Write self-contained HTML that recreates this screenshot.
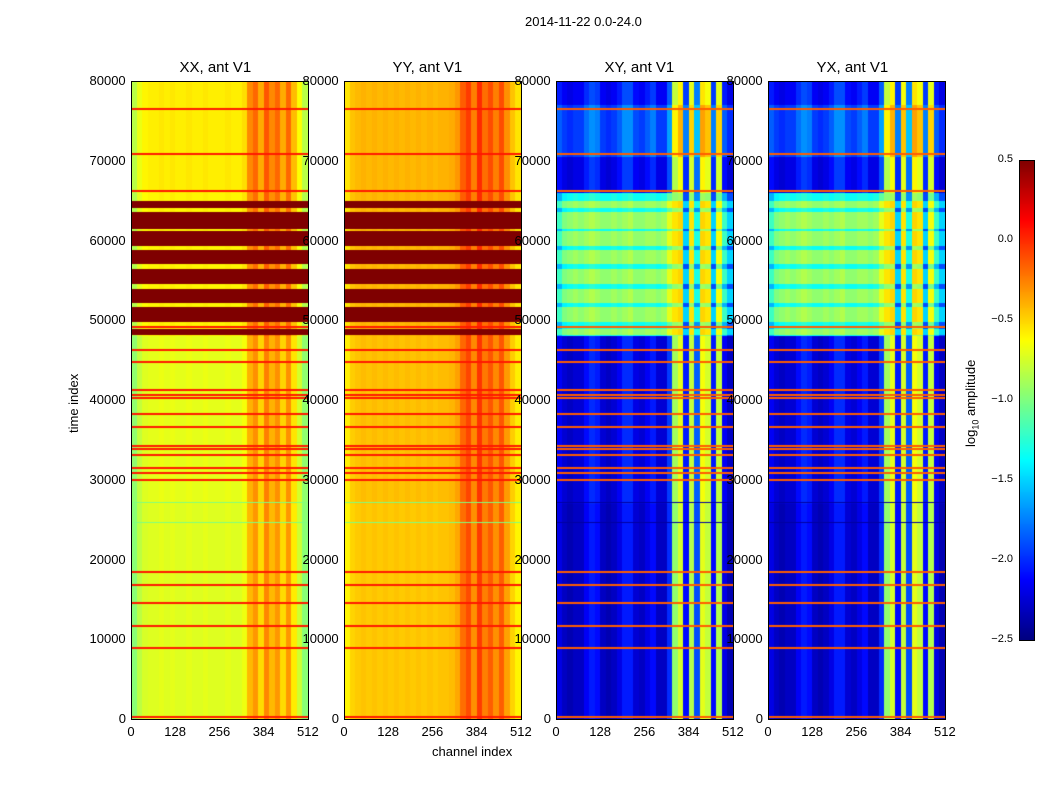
<!DOCTYPE html>
<html><head><meta charset="utf-8"><style>
body{margin:0;background:#fff;font-family:"Liberation Sans",sans-serif;}
#root{position:relative;width:1050px;height:800px;overflow:hidden;background:#fff;}
canvas{position:absolute;}
.t{position:absolute;font-size:13px;color:#000;white-space:nowrap;}
.ttl{position:absolute;font-size:15px;white-space:nowrap;}
.frame{position:absolute;border:1px solid #000;box-sizing:border-box;}
</style></head><body>
<div id="root">
<div class="t" style="left:525px;top:14px;">2014-11-22 0.0-24.0</div>
<div class="t" style="left:432px;top:744px;">channel index</div>
<div class="t" style="transform:rotate(-90deg);transform-origin:left top;top:433px;left:66px;">time index</div>
<div class="t" style="left:963px;top:447px;transform:rotate(-90deg);transform-origin:left top;">log<sub style="font-size:9px">10</sub> amplitude</div>
</div>
<script>
// ---- data ----
const panelTitles = ["XX, ant V1","YY, ant V1","XY, ant V1","YX, ant V1"];
const xTicks = [0,128,256,384,512];
const yTicks = [0,10000,20000,30000,40000,50000,60000,70000,80000];
const cbTicks = [-2.5,-2.0,-1.5,-1.0,-0.5,0.0,0.5];
// column profiles, 32 bins of 16 channels (log10 amplitude)
const xxQuiet = [-0.85,-0.7,-0.62,-0.6,-0.6,-0.58,-0.6,-0.58,-0.6,-0.6,-0.58,-0.6,-0.6,-0.58,-0.6,-0.6,-0.6,-0.58,-0.6,-0.6,-0.55,-0.3,-0.2,-0.4,-0.15,-0.3,-0.2,-0.4,-0.2,-0.45,-0.65,-0.85];
const yyQuiet = [-0.55,-0.45,-0.42,-0.4,-0.42,-0.4,-0.42,-0.4,-0.42,-0.4,-0.42,-0.4,-0.42,-0.4,-0.42,-0.4,-0.42,-0.4,-0.4,-0.38,-0.32,-0.15,-0.05,-0.25,0.0,-0.2,-0.1,-0.25,-0.1,-0.3,-0.45,-0.55];
const xyQuiet = [-2.2,-2.3,-2.35,-2.3,-2.3,-2.15,-2.05,-2.1,-2.3,-2.35,-2.3,-2.2,-2.05,-2.05,-2.25,-2.3,-2.2,-2.1,-2.3,-2.3,-2.0,-0.95,-0.75,-2.1,-0.85,-1.9,-0.7,-0.8,-2.1,-0.85,-2.2,-2.35];
const yxQuiet = [-2.2,-2.3,-2.35,-2.3,-2.3,-2.15,-2.05,-2.1,-2.3,-2.35,-2.3,-2.2,-2.05,-2.05,-2.25,-2.3,-2.2,-2.1,-2.3,-2.3,-2.0,-0.95,-0.75,-2.1,-0.8,-1.9,-0.7,-0.8,-2.1,-0.85,-2.2,-2.35];
const xyActive = [-1.2,-1.0,-0.95,-0.9,-0.95,-0.9,-0.85,-0.9,-0.95,-0.95,-0.9,-0.95,-0.9,-0.85,-0.95,-0.95,-0.9,-0.9,-0.95,-0.9,-0.7,-0.55,-0.5,-1.5,-0.55,-1.3,-0.5,-0.55,-1.5,-0.65,-1.2,-1.5];
// time segments
const segStart = [0,27000,48000,66000,70500,77000];
const segEnd   = [27000,48000,66000,70500,77000,80001];
const segOffXX = [-0.12,-0.1,0,0.02,0.02,0.02];
const segOffYY = [-0.05,-0.03,0,0,0,0];
const segOffXY = [0,0.05,0,0.1,0.35,0.15];
// flagged (saturated) bands
const flagStart = [64100,61400,59300,57050,54550,52150,49800,48200];
const flagEnd   = [65000,63600,61200,58800,56450,53900,51650,48900];
// thin RFI lines (time index)
const rfiLines = [76500,70800,66200,49200,46300,44800,41200,40300,40600,38300,36600,34200,33800,33100,31500,30900,30000,18400,16800,14500,11700,8900,200];
const darkLines = [27200,24600];
// ---- drawing ----
const root=document.getElementById('root');
const panels=[{x:131,q:xxQuiet,off:segOffXX,type:'auto'},{x:344,q:yyQuiet,off:segOffYY,type:'auto'},{x:556,q:xyQuiet,off:segOffXY,type:'cross',a:xyActive},{x:768,q:yxQuiet,off:segOffXY,type:'cross',a:xyActive}];
const PY=81,PW=177,PH=638,TMAX=80000,VMIN=-2.5,VMAX=0.5;
function yOf(t){return PY+PH-t/TMAX*PH;}
function xOf(c){return c/512*PW;}
function jet(v){let n=Math.max(0,Math.min(1,(v-VMIN)/(VMAX-VMIN)));
 const f=x=>Math.max(0,Math.min(1,1.5-Math.abs(4*n-x)));
 return [f(3)*255|0,f(2)*255|0,f(1)*255|0];}
function valueAt(p,bin,t){
 for(const L of rfiLines){if(Math.abs(t-L)<130)return p.type==='auto'?0.05:-0.15;}
 for(const L of darkLines){if(Math.abs(t-L)<70)return p.type==='auto'?-1.0:-2.4;}
 let s=0;for(let i=0;i<segStart.length;i++){if(t>=segStart[i]&&t<segEnd[i])s=i;}
 let fl=false;for(let i=0;i<flagStart.length;i++){if(t>=flagStart[i]&&t<=flagEnd[i])fl=true;}
 if(p.type==='auto'){ if(fl)return 0.6; return p.q[bin]+p.off[s]; }
 if(segStart[s]===48000){ return fl? p.a[bin] : p.a[bin]-0.4; }
 return p.q[bin]+p.off[s];
}
panels.forEach((p,pi)=>{
 const cv=document.createElement('canvas');cv.width=PW;cv.height=PH;
 cv.style.left=p.x+'px';cv.style.top=PY+'px';
 
 
 const ctx=cv.getContext('2d');
 for(let r=0;r<PH;r++){const t=(PH-r-0.5)/PH*TMAX;
  for(let b=0;b<32;b++){const c=jet(valueAt(p,b,t));ctx.fillStyle=`rgb(${c[0]},${c[1]},${c[2]})`;
   const x0=Math.round(xOf(b*16)),x1=Math.round(xOf((b+1)*16));ctx.fillRect(x0,r,x1-x0,1);}}
 root.appendChild(cv);
 const fr=document.createElement('div');fr.className='frame';
 fr.style.cssText=`left:${p.x}px;top:${PY}px;width:${PW+1}px;height:${PH+1}px;`;
 
 
 root.appendChild(fr);
 const tt=document.createElement('div');tt.className='ttl';tt.textContent=panelTitles[pi];
 tt.style.left=(p.x+PW/2-40)+'px';tt.style.top='59px';
 
 
 root.appendChild(tt);
 xTicks.forEach(v=>{const d=document.createElement('div');d.className='t';d.textContent=v;
  const w=String(v).length*7.3;d.style.left=(p.x+xOf(v)-w/2)+'px';d.style.top='724px';
  
  
  root.appendChild(d);});
 yTicks.forEach(v=>{const d=document.createElement('div');d.className='t';d.textContent=v;
  const w=String(v).length*7.3;d.style.left=(p.x-5-w)+'px';d.style.top=(yOf(v)-8)+'px';
  
  
  root.appendChild(d);});
});
// colorbar
const cb=document.createElement('canvas');cb.width=15;cb.height=480;cb.style.left='1019px';cb.style.top='160px';


const cx=cb.getContext('2d');
for(let r=0;r<480;r++){const v=VMAX-(r+0.5)/480*(VMAX-VMIN);const c=jet(v);cx.fillStyle=`rgb(${c[0]},${c[1]},${c[2]})`;cx.fillRect(0,r,15,1);}
root.appendChild(cb);
const cf=document.createElement('div');cf.className='frame';cf.style.cssText='left:1019px;top:160px;width:16px;height:481px;';


root.appendChild(cf);
cbTicks.forEach(v=>{const d=document.createElement('div');d.className='t';d.style.fontSize='11px';
 d.textContent=v.toFixed(1).replace('-','\u2212');
 const y=160+(VMAX-v)/(VMAX-VMIN)*480;d.style.right=(1050-1013)+'px';d.style.top=(y-7)+'px';
 
 
 root.appendChild(d);});
</script>
</body></html>
